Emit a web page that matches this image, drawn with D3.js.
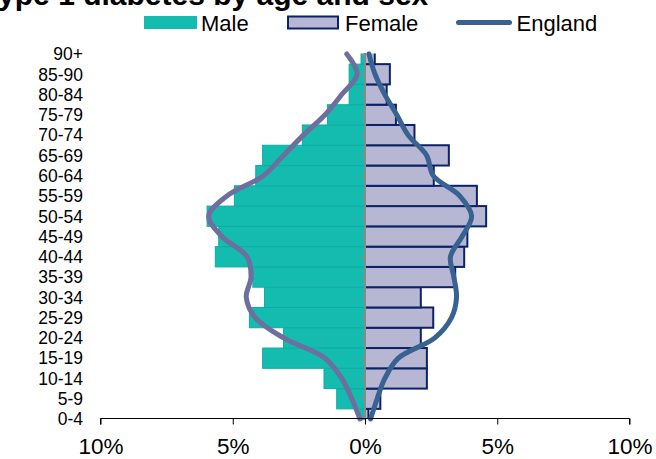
<!DOCTYPE html>
<html>
<head>
<meta charset="utf-8">
<script src="https://cdn.jsdelivr.net/npm/d3@7"></script>
<style>
  body { margin: 0; background: #fff; }
  text { font-family: "Liberation Sans", Arial, sans-serif; fill: #000; }
</style>
</head>
<body>
<svg id="chart"></svg>
<script>
// Age bands, bottom to top
const ages = ["0-4", "5-9", "10-14", "15-19", "20-24", "25-29", "30-34", "35-39", "40-44",
  "45-49", "50-54", "55-59", "60-64", "65-69", "70-74", "75-79", "80-84", "85-90", "90+"];

// Practice percentages
const male = [0.2, 1.07, 1.55, 3.87, 3.08, 4.37, 3.8, 4.24, 5.66, 5.53, 5.97, 4.94, 4.13, 3.87, 2.37, 1.42, 0.6, 0.6, 0.15];
const female = [0.13, 0.58, 2.34, 2.34, 2.11, 2.58, 2.11, 3.41, 3.75, 3.87, 4.58, 4.23, 2.6, 3.17, 1.87, 1.17, 0.82, 0.94, 0.37];

// England comparison
const englandMale = [0.19, 0.5, 0.88, 1.51, 3.08, 4.15, 4.49, 4.31, 4.46, 5.41, 5.91, 5.22, 3.84, 3.08, 2.33, 1.51, 0.88, 0.3, 0.69];
const englandFemale = [0.21, 0.46, 0.75, 1.26, 2.64, 3.27, 3.46, 3.36, 3.23, 3.67, 4.03, 3.58, 2.58, 2.33, 1.63, 1.2, 0.75, 0.38, 0.15];

const xTicks = [-10, -5, 0, 5, 10];

const W = 656, H = 459;
const svg = d3.select("#chart").attr("width", W).attr("height", H);

const x = d3.scaleLinear().domain([-10, 10]).range([100.5, 629.5]);
const y = d3.scalePoint().domain(ages).range([419, 54]);
const band = y.step();

// clip bars to the plot area
svg.append("clipPath").attr("id", "plot")
  .append("rect").attr("x", 0).attr("y", 53.5).attr("width", W).attr("height", 419 - 53.5);

const bars = svg.append("g").attr("clip-path", "url(#plot)");

// Male bars (left)
bars.selectAll(".male")
  .data(ages)
  .enter().append("rect")
    .attr("x", (d, i) => x(-male[i]))
    .attr("y", d => y(d) - band / 2)
    .attr("width", (d, i) => x(0) - x(-male[i]))
    .attr("height", band)
    .attr("fill", "#14BBAF")
    .attr("stroke", "#0DAEA2")
    .attr("stroke-width", 1);

// Female bars (right)
bars.selectAll(".female")
  .data(ages)
  .enter().append("rect")
    .attr("x", x(0))
    .attr("y", d => y(d) - band / 2)
    .attr("width", (d, i) => x(female[i]) - x(0))
    .attr("height", band)
    .attr("fill", "#B7B7D4")
    .attr("stroke", "#0B2366")
    .attr("stroke-width", 2);

// Centre axis with small ticks
const centre = svg.append("g")
    .attr("transform", `translate(${x(0)},0)`)
    .call(d3.axisLeft(y).tickSize(4).tickFormat(""));
centre.select(".domain").attr("stroke", "#8A8A8A").attr("stroke-width", 2)
  .attr("d", `M0,53.5V419`);
centre.selectAll(".tick line").attr("stroke", "#8A8A8A").attr("stroke-width", 1.5);

// Age labels
svg.append("g").selectAll("text")
  .data(ages)
  .enter().append("text")
    .attr("x", 83)
    .attr("y", d => y(d))
    .attr("dy", "0.36em")
    .attr("text-anchor", "end")
    .style("font-size", "17.5px")
    .text(d => d);

// England lines
const line = d3.line()
    .y((d, i) => y(ages[i]))
    .curve(d3.curveCatmullRom);

svg.append("path")
    .datum(englandMale)
    .attr("d", line.x(d => x(-d)))
    .attr("fill", "none")
    .attr("stroke", "#6E6E9F")
    .attr("stroke-width", 5)
    .attr("stroke-linecap", "round");

svg.append("path")
    .datum(englandFemale)
    .attr("d", line.x(d => x(d)))
    .attr("fill", "none")
    .attr("stroke", "#376292")
    .attr("stroke-width", 5)
    .attr("stroke-linecap", "round");

// Bottom axis
const xAxis = svg.append("g")
    .attr("transform", "translate(0,418.5)")
    .call(d3.axisBottom(x).tickValues(xTicks).tickSize(6).tickFormat(d => Math.abs(d) + "%"));
xAxis.select(".domain").attr("stroke", "#000").attr("d", `M${x(-10)},6V0H${x(10)}V6`);
xAxis.selectAll(".tick line").attr("stroke", "#000");
xAxis.selectAll(".tick text")
    .attr("y", 35.5)
    .attr("dy", 0)
    .style("font-size", "22.5px")
    .style("font-family", "Liberation Sans, Arial, sans-serif")
    .attr("fill", "#000");

// Title (cut off at the top)
svg.append("text")
    .attr("x", -18)
    .attr("y", 5)
    .style("font-size", "30px")
    .style("font-weight", "bold")
    .text("Type 1 diabetes by age and sex");

// Legend
const legend = svg.append("g");
legend.append("rect").attr("x", 144).attr("y", 16).attr("width", 53).attr("height", 13).attr("fill", "#14BBAF");
legend.append("text").attr("x", 201).attr("y", 30.5).style("font-size", "22px").text("Male");
legend.append("rect").attr("x", 288).attr("y", 16.5).attr("width", 50).attr("height", 12)
  .attr("fill", "#B7B7D4").attr("stroke", "#0B2366").attr("stroke-width", 2);
legend.append("text").attr("x", 345).attr("y", 30.5).style("font-size", "22px").text("Female");
legend.append("line").attr("x1", 458.5).attr("x2", 509.5).attr("y1", 22.5).attr("y2", 22.5)
  .attr("stroke", "#376292").attr("stroke-width", 5).attr("stroke-linecap", "round");
legend.append("text").attr("x", 516.5).attr("y", 30.5).style("font-size", "22px").text("England");
</script>
</body>
</html>
